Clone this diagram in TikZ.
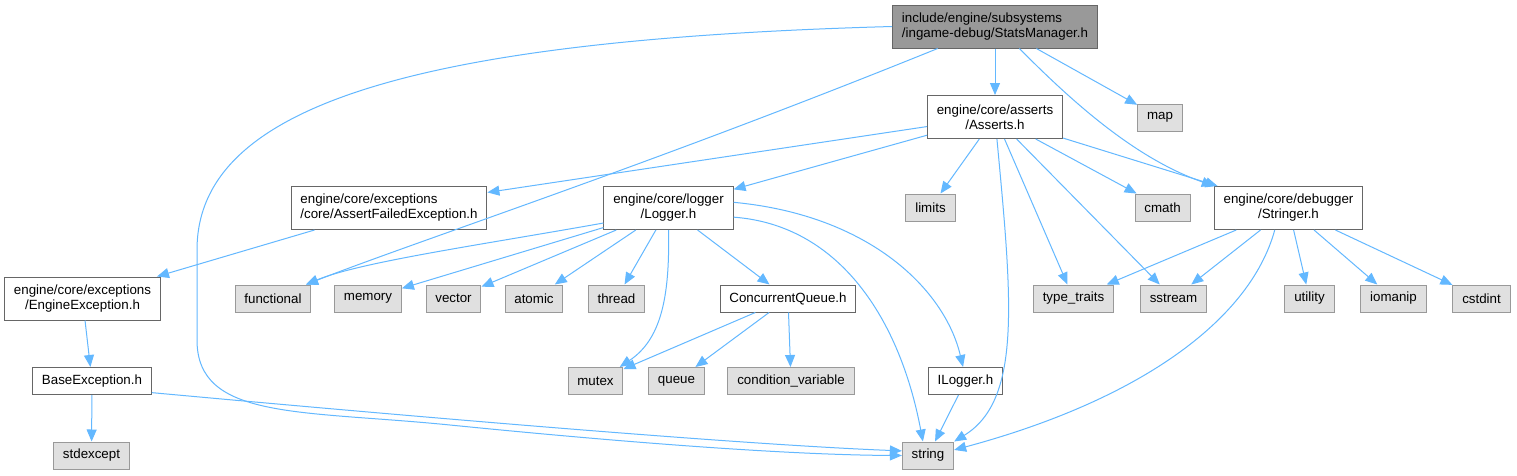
\documentclass[tikz,border=0pt]{standalone}
\usepackage{fontspec}
\setmainfont{Liberation Sans}
\usetikzlibrary{arrows.meta}

\definecolor{edgeblue}{HTML}{63B8FF}
\definecolor{fileborder}{HTML}{666666}
\definecolor{sysborder}{HTML}{999999}
\definecolor{sysfill}{HTML}{E0E0E0}
\definecolor{mainfill}{HTML}{999999}

\begin{document}
\begin{tikzpicture}[
        x=0.75pt, y=-0.75pt,
        >={Triangle[length=9pt, width=7.5pt]},
        header/.style={draw=fileborder, fill=white, line width=0.75pt, font=\fontsize{10}{11.25}\selectfont, align=center, inner xsep=7pt, inner ysep=0pt, minimum height=20.25pt},
        twoline/.style={header, minimum height=32.25pt},
        current/.style={twoline, fill=mainfill, align=left},
        sysheader/.style={header, draw=sysborder, fill=sysfill},
        dep/.style={->, draw=edgeblue, line width=0.75pt}
    ]

    \fill[white] (0,0) rectangle (1517,475);
    \useasboundingbox (0,0) rectangle (1517,475);

    % --- Top ---
    \node[current] (stats) at (995,26.5) {include/engine/subsystems\\/ingame-debug/StatsManager.h};
    \node[twoline] (asserts) at (995,117) {engine/core/asserts\\/Asserts.h};
    \node[sysheader] (map) at (1160,117.5) {map};

    % --- Second row ---
    \node[twoline, align=left] (afe) at (389,208) {engine/core/exceptions\\/core/AssertFailedException.h};
    \node[twoline] (logger) at (668.5,208) {engine/core/logger\\/Logger.h};
    \node[sysheader] (limits) at (930.5,207.5) {limits};
    \node[sysheader] (cmath) at (1162.5,207.5) {cmath};
    \node[twoline] (stringer) at (1288.5,208) {engine/core/debugger\\/Stringer.h};

    % --- Third row ---
    \node[twoline] (engexc) at (82.5,298.5) {engine/core/exceptions\\/EngineException.h};
    \node[sysheader] (functional) at (273,298.5) {functional};
    \node[sysheader] (memory) at (368,298.5) {memory};
    \node[sysheader] (vector) at (453.5,298.5) {vector};
    \node[sysheader] (atomic) at (534,298.5) {atomic};
    \node[sysheader] (thread) at (616.5,298.5) {thread};
    \node[header] (cqueue) at (788,298.5) {ConcurrentQueue.h};
    \node[sysheader] (typetraits) at (1073.5,298.5) {type\_traits};
    \node[sysheader] (sstream) at (1173.5,298.5) {sstream};
    \node[sysheader] (utility) at (1309.5,298.5) {utility};
    \node[sysheader] (iomanip) at (1393.5,298.5) {iomanip};
    \node[sysheader] (cstdint) at (1481.5,298.5) {cstdint};

    % --- Fourth row ---
    \node[header] (baseexc) at (92,381) {BaseException.h};
    \node[sysheader] (mutex) at (595.5,381) {mutex};
    \node[sysheader] (queue) at (676.5,381) {queue};
    \node[sysheader] (condvar) at (791,381) {condition\_variable};
    \node[header] (ilogger) at (965.5,381) {ILogger.h};

    % --- Bottom ---
    \node[sysheader] (stdexcept) at (91.5,455.5) {stdexcept};
    \node[sysheader] (string) at (928,455.5) {string};

    % --- StatsManager.h ---
    \draw[dep] (stats.west) .. controls (400,40) and (197,110) .. (197,250) -- (197,340) .. controls (197,420) and (300,410) .. (450,425) .. controls (650,445) and (800,455) .. (string.west);
    \draw[dep] (stats.-159) .. controls (650,165) and (420,240) .. (functional.23);
    \draw[dep] (stats) -- (asserts);
    \draw[dep] (stats.-28) -- (map);
    \draw[dep] (stats.-42) .. controls (1080,110) and (1140,160) .. (stringer.north west);

    % --- Asserts.h ---
    \draw[dep] (asserts.-172) -- (afe.9);
    \draw[dep] (asserts.-165) -- (logger.16);
    \draw[dep] (asserts) -- (limits);
    \draw[dep] (asserts) -- (cmath);
    \draw[dep] (asserts) -- (stringer);
    \draw[dep] (asserts) -- (typetraits);
    \draw[dep] (asserts) -- (sstream);
    \draw[dep] (asserts.-85) .. controls (1012,300) and (1022,400) .. (string.north east);

    % --- Logger.h ---
    \draw[dep] (logger.-167) .. controls (480,245) and (360,262) .. (functional.23);
    \draw[dep] (logger) -- (memory);
    \draw[dep] (logger) -- (vector);
    \draw[dep] (logger) -- (atomic);
    \draw[dep] (logger) -- (thread);
    \draw[dep] (logger) -- (cqueue);
    \draw[dep] (logger.south) .. controls (670,300) and (660,340) .. (mutex.30);
    \draw[dep] (logger.-8) .. controls (840,225) and (900,320) .. (string.110);
    \draw[dep] (logger.5) .. controls (870,215) and (945,290) .. (ilogger.100);

    % --- ConcurrentQueue.h ---
    \draw[dep] (cqueue) -- (mutex);
    \draw[dep] (cqueue) -- (queue);
    \draw[dep] (cqueue) -- (condvar);

    % --- Exceptions ---
    \draw[dep] (afe) -- (engexc);
    \draw[dep] (engexc) -- (baseexc);
    \draw[dep] (baseexc) -- (stdexcept);
    \draw[dep] (baseexc.-11) .. controls (450,420) and (750,445) .. (string.170);
    \draw[dep] (ilogger) -- (string);

    % --- Stringer.h ---
    \draw[dep] (stringer) -- (typetraits);
    \draw[dep] (stringer) -- (sstream);
    \draw[dep] (stringer.-122) .. controls (1250,320) and (1140,400) .. (string.12);
    \draw[dep] (stringer) -- (utility);
    \draw[dep] (stringer) -- (iomanip);
    \draw[dep] (stringer) -- (cstdint);

\end{tikzpicture}
\end{document}
